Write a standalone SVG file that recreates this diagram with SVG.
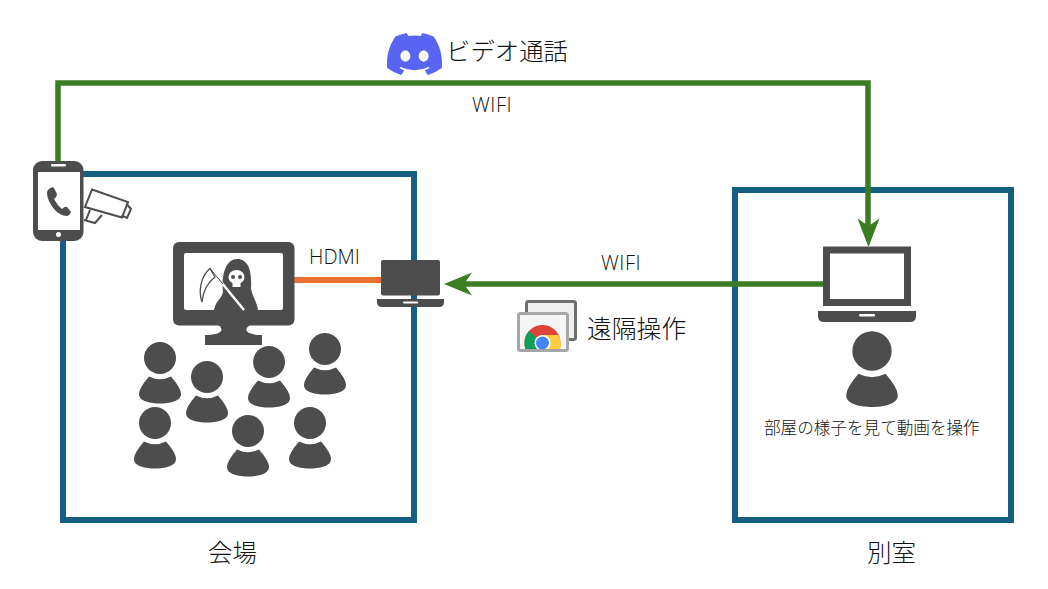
<svg xmlns="http://www.w3.org/2000/svg" xmlns:xlink="http://www.w3.org/1999/xlink" width="1048" height="589" viewBox="0 0 1048 589">
<style>
.room{fill:none;stroke:#156082;stroke-width:6}
.g{fill:#4d4d4d}
.w{fill:#fff}
.wire{fill:none;stroke:#3b7d23;stroke-width:5.5}
text{font-family:"Open Sans","Noto Sans CJK JP",sans-serif;fill:#111;font-weight:300}
</style>
<defs>
<g id="person"><circle cx="0" cy="0" r="16"/><path d="M-11 18.500Q0 24 11 18.500Q21 30 21 36C21 43.500 9 45.500 0 45.500C-9 45.500 -21 43.500 -21 36Q-21 30 -11 18.500Z"/></g>
<clipPath id="chrome-clip"><rect x="519" y="315" width="48" height="34"/></clipPath>
</defs>
<rect id="room-a" class="room" x="63" y="174" width="351" height="346"/>
<rect id="room-b" class="room" x="735" y="190" width="276" height="330"/>
<g id="connectors">
<path class="wire" d="M58 165V83H868V236"/>
<path d="M857.500 218.500L868.500 226L879.500 218.500L868.500 247Z" fill="#3b7d23"/>
<path class="wire" d="M826 284H456"/>
<path d="M444 284L472 272.500L464 284L472 295.500Z" fill="#3b7d23"/>
<path d="M292 280H384" fill="none" stroke="#e97132" stroke-width="6"/>
</g>
<g id="phone">
<rect class="g" x="33" y="161" width="50.500" height="80" rx="9"/>
<rect class="w" x="38" y="172" width="42" height="58"/>
<rect class="w" x="51" y="164" width="15" height="2.500" rx="1"/>
<circle class="w" cx="58.500" cy="234.500" r="2.500"/>
<path class="g" d="M49 189Q52 186 54 188L57 194Q57 197 54 199Q57 205 62 209Q65 206 67 207L71 212Q70 215 67 216Q60 216 54 209Q47 200 47 193Q47 190 49 189Z"/>
</g>
<g id="camera" fill="none" stroke="#4d4d4d" stroke-width="2">
<path d="M92 189.500L128 202L122 217.500L85 207Z"/>
<path d="M127.500 205L131 209L127 218L121.500 215.500"/>
<path d="M84 220L95 223L102 215M90 210L86 220"/>
</g>
<g id="monitor">
<rect class="g" x="173" y="242" width="121.500" height="83.500" rx="6"/>
<rect class="w" x="184" y="253" width="99" height="57" rx="2"/>
<path class="g" d="M216 324C225 328 224 335 205 335V345H262V335C244 335 243 328 252 324Z"/>
<path class="g" d="M214 310C215 302 222 298 223 292C221 275 226 259 237 259C249 259 252 272 251 289C253 298 257 302 258 310Z"/>
<ellipse class="w" cx="236.500" cy="277" rx="8" ry="7"/>
<rect class="w" x="232.500" y="282" width="8" height="5"/>
<circle class="g" cx="233" cy="277" r="2"/><circle class="g" cx="240" cy="277" r="2"/>
<path d="M210 268.500L244 310" stroke="#fff" stroke-width="2.500" fill="none"/>
<path d="M210 268.500L223 284" stroke="#4d4d4d" stroke-width="1" fill="none"/>
<path d="M210 268.500C201 276 198 291 202 302C203 291 207 283 215 277Z" fill="none" stroke="#4d4d4d" stroke-width="1.300"/>
</g>
<g id="laptop-a">
<rect class="g" x="381" y="260" width="59" height="35.500" rx="2"/>
<path class="g" d="M377 299H444V302Q444 307 439 307H382Q377 307 377 302Z"/>
<rect class="w" x="403" y="301.500" width="15" height="2" rx="1"/>
</g>
<g id="audience" class="g">
<use xlink:href="#person" x="160" y="358"/>
<use xlink:href="#person" x="207" y="377"/>
<use xlink:href="#person" x="269" y="362"/>
<use xlink:href="#person" x="325" y="349"/>
<use xlink:href="#person" x="155" y="423"/>
<use xlink:href="#person" x="248" y="431"/>
<use xlink:href="#person" x="310" y="423"/>
</g>
<g id="discord">
<path transform="translate(387 33) scale(.433 .436)" fill="#5865f2" fill-rule="evenodd" d="M107.7,8.07A105.15,105.15,0,0,0,81.47,0a72.06,72.06,0,0,0-3.36,6.83A97.68,97.68,0,0,0,49,6.83,72.37,72.37,0,0,0,45.64,0,105.89,105.89,0,0,0,19.39,8.09C2.79,32.65-1.71,56.6.54,80.21h0A105.73,105.73,0,0,0,32.71,96.36,77.7,77.7,0,0,0,39.6,85.25a68.42,68.42,0,0,1-10.85-5.18c.91-.66,1.8-1.34,2.66-2a75.57,75.57,0,0,0,64.32,0c.87.71,1.76,1.39,2.66,2a68.68,68.68,0,0,1-10.87,5.19,77,77,0,0,0,6.89,11.1A105.25,105.25,0,0,0,126.6,80.22h0C129.24,52.84,122.09,29.11,107.7,8.07ZM42.45,65.69C36.18,65.69,31,60,31,53s5-12.74,11.43-12.74S54,46,53.89,53,48.84,65.69,42.45,65.69Zm42.24,0C78.41,65.69,73.25,60,73.25,53s5-12.74,11.44-12.74S96.23,46,96.12,53,91.08,65.69,84.69,65.69Z"/>
</g>
<g id="remote">
<rect x="526.500" y="301.500" width="49" height="38" rx="2" fill="#efefef" stroke="#6e6e6e" stroke-width="3"/>
<rect x="518.500" y="313.500" width="49" height="37" rx="2" fill="#f5f5f5" stroke="#a6a6a6" stroke-width="3"/>
<g clip-path="url(#chrome-clip)">
<circle cx="542.500" cy="343" r="18" fill="#db4437"/>
<path d="M542.500 343L529 331A18 18 0 0 0 530 356H542.500Z" fill="#0f9d58"/>
<path d="M542.500 343H560.500A18 18 0 0 1 556 356H542.500Z" fill="#ffcd40"/>
<path d="M542.500 335H558.500A18 18 0 0 1 560.500 343V356H542.500Z" fill="#ffcd40"/>
<circle cx="542.500" cy="343" r="8" fill="#fff"/>
<circle cx="542.500" cy="343" r="6.500" fill="#4285f4"/>
</g>
</g>
<g id="laptop-b">
<rect x="826.500" y="250" width="81" height="52.500" fill="#fff" stroke="#4d4d4d" stroke-width="7"/>
<path class="g" d="M818 311H916V316Q916 322 910 322H824Q818 322 818 316Z"/>
<rect class="w" x="859" y="314" width="16" height="2.500" rx="1"/>
</g>
<g id="operator" class="g"><use xlink:href="#person" transform="translate(872 351) scale(1.23)"/></g>
<g id="labels">
<text x="446" y="60" font-size="24.400">ビデオ通話</text>
<text x="472" y="112" font-size="20" letter-spacing=".5">WIFI</text>
<text x="309" y="264" font-size="20">HDMI</text>
<text x="601" y="270" font-size="20" letter-spacing=".5">WIFI</text>
<text x="587" y="338" font-size="24.800">遠隔操作</text>
<text x="764" y="434" font-size="16.600">部屋の様子を見て動画を操作</text>
<text x="208" y="562" font-size="24.500">会場</text>
<text x="867" y="562" font-size="24.500">別室</text>
</g>
</svg>
